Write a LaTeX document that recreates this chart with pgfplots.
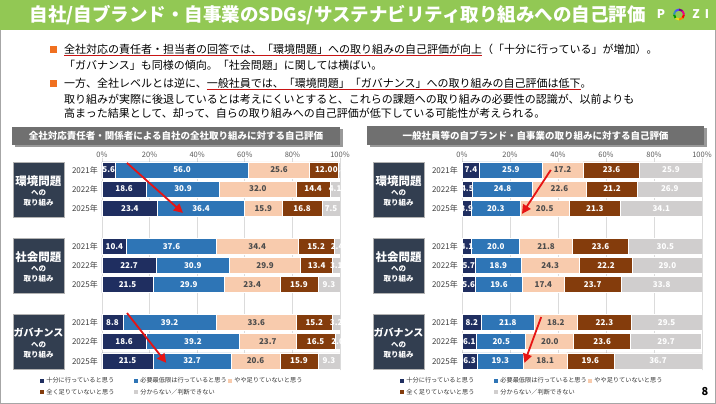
\documentclass[border=0pt]{standalone}
\usepackage{fontspec}
\setmainfont{Noto Sans CJK JP}
\usepackage{pgfplots}
\pgfplotsset{compat=1.18}
\usepackage{pgfplotstable}
\usetikzlibrary{arrows.meta}
\definecolor{cA}{RGB}{31,46,96}
\definecolor{cB}{RGB}{46,117,182}
\definecolor{cC}{RGB}{248,203,173}
\definecolor{cD}{RGB}{132,60,12}
\definecolor{cE}{RGB}{208,206,206}
\definecolor{ttl}{RGB}{146,200,84}
\definecolor{catbox}{RGB}{50,62,80}
\definecolor{hdr}{RGB}{112,112,112}
\definecolor{arrowred}{RGB}{230,20,20}
\definecolor{ulred}{RGB}{200,20,20}
\definecolor{bulletc}{RGB}{240,112,32}
\newcommand\ru[1]{\sbox0{#1}\rlap{\color{ulred}\rule[-2.6pt]{\wd0}{0.9pt}}\usebox0}
\tikzset{redarrow/.style={arrowred, line width=1.8pt, -{Triangle[length=9pt, width=9pt]}}}

\pgfplotstableread{
y a b c d e
0 5.6 56.0 25.6 12.0 0.8
-1 18.6 30.9 32.0 14.4 4.1
-2 23.4 36.4 15.9 16.8 7.5
-4 10.4 37.6 34.4 15.2 2.4
-5 22.7 30.9 29.9 13.4 3.1
-6 21.5 29.9 23.4 15.9 9.3
-8 8.8 39.2 33.6 15.2 3.2
-9 18.6 39.2 23.7 16.5 2.0
-10 21.5 32.7 20.6 15.9 9.3
}\leftdata
\pgfplotstableread{
y a b c d e
0 7.4 25.9 17.2 23.6 25.9
-1 4.5 24.8 22.6 21.2 26.9
-2 3.9 20.3 20.5 21.3 34.1
-4 4.1 20.0 21.8 23.6 30.5
-5 5.7 18.9 24.3 22.2 29.0
-6 5.6 19.6 17.4 23.7 33.8
-8 8.2 21.8 18.2 22.3 29.5
-9 6.1 20.5 20.0 23.6 29.7
-10 6.3 19.3 18.1 19.6 36.7
}\rightdata

\pgfplotsset{
 /pgf/number format/assume math mode=true,
 barpanel/.style={
  xbar stacked, scale only axis, height=212pt,
  xmin=0, xmax=100, ymin=-10.5, ymax=0.6,
  bar width=16pt,
  axis line style={draw=none}, major tick length=0pt,
  xtick={0,20,40,60,80,100}, xticklabels={0\%,20\%,40\%,60\%,80\%,100\%},
  xticklabel pos=upper,
  xmajorgrids, grid style={draw=black!14, line width=0.6pt},
  ytick={-10,-9,-8,-6,-5,-4,-2,-1,0},
  yticklabels={2025年,2022年,2021年,2025年,2022年,2021年,2025年,2022年,2021年},
  x tick label style={font=\fontsize{7.5}{8}\selectfont, text=black!65, inner sep=1pt},
  y tick label style={font=\fontsize{8}{9}\selectfont, text=black!75, inner sep=1pt, xshift=-3pt},
  legend columns=3, legend cell align=left,
  legend style={draw=none, fill=none, font=\fontsize{6.2}{7}\selectfont, text=black!80,
     /tikz/every even column/.append style={text width=86pt}, row sep=1.2pt, inner sep=0pt},
  legend image code/.code={\path[##1, draw=none] (0pt,-2pt) rectangle (4pt,2pt);},
 },
 lblpanel/.style={scale only axis, height=212pt, xmin=0, xmax=100, ymin=-10.5, ymax=0.6,
   hide axis, clip marker paths=true},
 lbl/.style={scatter, only marks, mark=*, mark size=0pt, mark options={draw=none,fill=none},
   point meta=explicit symbolic,
   scatter/@pre marker code/.code={\node[font=\fontsize{8}{9}\selectfont\bfseries, text=#1, inner sep=0pt] {\pgfplotspointmeta};},
   scatter/@post marker code/.code={}},
}

\begin{document}
\begin{tikzpicture}[x=1pt, y=1pt]
\path[use as bounding box] (0pt,0pt) rectangle (716pt,404pt);
\begin{scope}[shift={(0pt,404pt)}, yscale=-1]
 \fill[white] (0,0) rectangle (716,404);
 \draw[black!35, line width=1.4pt] (0.7,0) -- (0.7,403.3) -- (715.3,403.3) -- (715.3,0);
 \fill[ttl] (0,0) rectangle (716,30);
 \node[anchor=west, text=white, font=\fontsize{18.5}{20}\selectfont\bfseries] at (26,15) {自社/自ブランド・自事業のSDGs/サステナビリティ取り組みへの自己評価};
 \node[text=white, font=\fontsize{12}{13}\selectfont\bfseries] at (661,14.5) {P};
 \foreach \c [count=\i] in {red,orange,yellow!90!black,green!60!black,cyan!70!black,blue!70,violet,magenta} {
   \draw[\c, line width=2pt] (679,14.5) ++({(\i-1)*45}:5) arc ({(\i-1)*45}:{\i*45}:5);
 }
 \node[text=white, font=\fontsize{12}{13}\selectfont\bfseries] at (696,14.5) {Z};
 \node[text=white, font=\fontsize{12}{13}\selectfont\bfseries] at (707,14.5) {I};
 % bullets
 \fill[bulletc] (49.5,46.5) rectangle (56.5,53.5);
 \fill[bulletc] (49.5,80.5) rectangle (56.5,87.5);
 \begin{scope}[every node/.style={anchor=west, font=\fontsize{11}{12}\selectfont, text=black, inner sep=0pt}]
  \node at (64,50) {\ru{全社対応の責任者・担当者の回答では、「環境問題」への取り組みの自己評価が向上}（「十分に行っている」が増加）。};
  \node at (64,65) {「ガバナンス」も同様の傾向。「社会問題」に関しては横ばい。};
  \node at (64,84) {一方、全社レベルとは逆に、\ru{一般社員では、「環境問題」「ガバナンス」への取り組みの自己評価は低下}。};
  \node at (64,99) {取り組みが実際に後退しているとは考えにくいとすると、これらの課題への取り組みの必要性の認識が、以前よりも};
  \node at (64,113) {高まった結果として、却って、自らの取り組みへの自己評価が低下している可能性が考えられる。};
 \end{scope}
 % panel headers
 \fill[black!40] (14.5,129.5) rectangle (342.5,147.5);
 \fill[hdr] (12,127) rectangle (340,145);
 \node[text=white, font=\fontsize{9.5}{10}\selectfont\bfseries] at (176,136) {全社対応責任者・関係者による自社の全社取り組みに対する自己評価};
 \fill[black!40] (369.5,128.5) rectangle (706.5,147.5);
 \fill[hdr] (367,126) rectangle (704,145);
 \node[text=white, font=\fontsize{9.5}{10}\selectfont\bfseries] at (535.5,135.5) {一般社員等の自ブランド・自事業の取り組みに対する自己評価};
\end{scope}

% ---------- left panel ----------
\begin{axis}[barpanel, width=238pt, at={(102pt,245.5pt)}, anchor=north west,
  legend style={at={(-0.26,-0.021)}, anchor=north west}]
 \addplot[fill=cA, draw=white, line width=0.7pt] table[x=a, y=y]{\leftdata};
 \addlegendentry{十分に行っていると思う}
 \addplot[fill=cB, draw=white, line width=0.7pt] table[x=b, y=y]{\leftdata};
 \addlegendentry{必要最低限は行っていると思う}
 \addplot[fill=cC, draw=white, line width=0.7pt] table[x=c, y=y]{\leftdata};
 \addlegendentry{やや足りていないと思う}
 \addplot[fill=cD, draw=white, line width=0.7pt] table[x=d, y=y]{\leftdata};
 \addlegendentry{全く足りていないと思う}
 \addplot[fill=cE, draw=white, line width=0.7pt] table[x=e, y=y]{\leftdata};
 \addlegendentry{分からない／判断できない}
\end{axis}
\begin{axis}[lblpanel, width=238pt, at={(102pt,245.5pt)}, anchor=north west]
 \addplot[lbl=white] table[x expr=\thisrow{a}/2, y=y, meta=a]{\leftdata};
 \addplot[lbl=white] table[x expr=\thisrow{a}+\thisrow{b}/2, y=y, meta=b]{\leftdata};
 \addplot[lbl=black!70] table[x expr=\thisrow{a}+\thisrow{b}+\thisrow{c}/2, y=y, meta=c]{\leftdata};
 \addplot[lbl=white] table[x expr=\thisrow{a}+\thisrow{b}+\thisrow{c}+\thisrow{d}/2, y=y, meta=d]{\leftdata};
 \addplot[lbl=white] table[x expr=\thisrow{a}+\thisrow{b}+\thisrow{c}+\thisrow{d}+\thisrow{e}/2, y=y, meta=e]{\leftdata};
 \draw[redarrow] (axis cs:10.5,0.37) -- (axis cs:34,-2.25);
 \draw[redarrow] (axis cs:10.5,-7.49) -- (axis cs:27,-10.1);
\end{axis}

% ---------- right panel ----------
\begin{axis}[barpanel, width=240pt, at={(462pt,245.5pt)}, anchor=north west,
  legend style={at={(-0.2575,-0.021)}, anchor=north west}]
 \addplot[fill=cA, draw=white, line width=0.7pt] table[x=a, y=y]{\rightdata};
 \addlegendentry{十分に行っていると思う}
 \addplot[fill=cB, draw=white, line width=0.7pt] table[x=b, y=y]{\rightdata};
 \addlegendentry{必要最低限は行っていると思う}
 \addplot[fill=cC, draw=white, line width=0.7pt] table[x=c, y=y]{\rightdata};
 \addlegendentry{やや足りていないと思う}
 \addplot[fill=cD, draw=white, line width=0.7pt] table[x=d, y=y]{\rightdata};
 \addlegendentry{全く足りていないと思う}
 \addplot[fill=cE, draw=white, line width=0.7pt] table[x=e, y=y]{\rightdata};
 \addlegendentry{分からない／判断できない}
\end{axis}
\begin{axis}[lblpanel, width=240pt, at={(462pt,245.5pt)}, anchor=north west]
 \addplot[lbl=white] table[x expr=\thisrow{a}/2, y=y, meta=a]{\rightdata};
 \addplot[lbl=white] table[x expr=\thisrow{a}+\thisrow{b}/2, y=y, meta=b]{\rightdata};
 \addplot[lbl=black!70] table[x expr=\thisrow{a}+\thisrow{b}+\thisrow{c}/2, y=y, meta=c]{\rightdata};
 \addplot[lbl=white] table[x expr=\thisrow{a}+\thisrow{b}+\thisrow{c}+\thisrow{d}/2, y=y, meta=d]{\rightdata};
 \addplot[lbl=white] table[x expr=\thisrow{a}+\thisrow{b}+\thisrow{c}+\thisrow{d}+\thisrow{e}/2, y=y, meta=e]{\rightdata};
 \draw[redarrow] (axis cs:37,0) -- (axis cs:25,-2.3);
 \draw[redarrow] (axis cs:33,-7.7) -- (axis cs:26,-10.1);
\end{axis}

\begin{scope}[shift={(0pt,404pt)}, yscale=-1]
 \foreach \xc in {38.5, 398.5} {
  \foreach \c/\t in {190/環境問題, 266/社会問題} {
   \fill[catbox] (\xc-25.5,\c-27.5) rectangle (\xc+25.5,\c+27.5);
   \draw[black!30, line width=0.6pt] (\xc-25.5,\c-27.5) rectangle (\xc+25.5,\c+27.5);
   \node[text=white, font=\fontsize{11.5}{12}\selectfont\bfseries] at (\xc,\c-9) {\t};
   \node[text=white, font=\fontsize{7.5}{8}\selectfont\bfseries] at (\xc,\c+3) {への};
   \node[text=white, font=\fontsize{7.5}{8}\selectfont\bfseries] at (\xc,\c+13) {取り組み};
  }
  \fill[catbox] (\xc-25.5,342-27.5) rectangle (\xc+25.5,342+27.5);
  \draw[black!30, line width=0.6pt] (\xc-25.5,342-27.5) rectangle (\xc+25.5,342+27.5);
  \node[text=white, font=\fontsize{10}{11}\selectfont\bfseries] at (\xc,342-9) {ガバナンス};
  \node[text=white, font=\fontsize{7.5}{8}\selectfont\bfseries] at (\xc,342+3) {への};
  \node[text=white, font=\fontsize{7.5}{8}\selectfont\bfseries] at (\xc,342+13) {取り組み};
 }
 \node[font=\fontsize{11}{12}\selectfont\bfseries] at (705,392) {8};
\end{scope}
\end{tikzpicture}
\end{document}
